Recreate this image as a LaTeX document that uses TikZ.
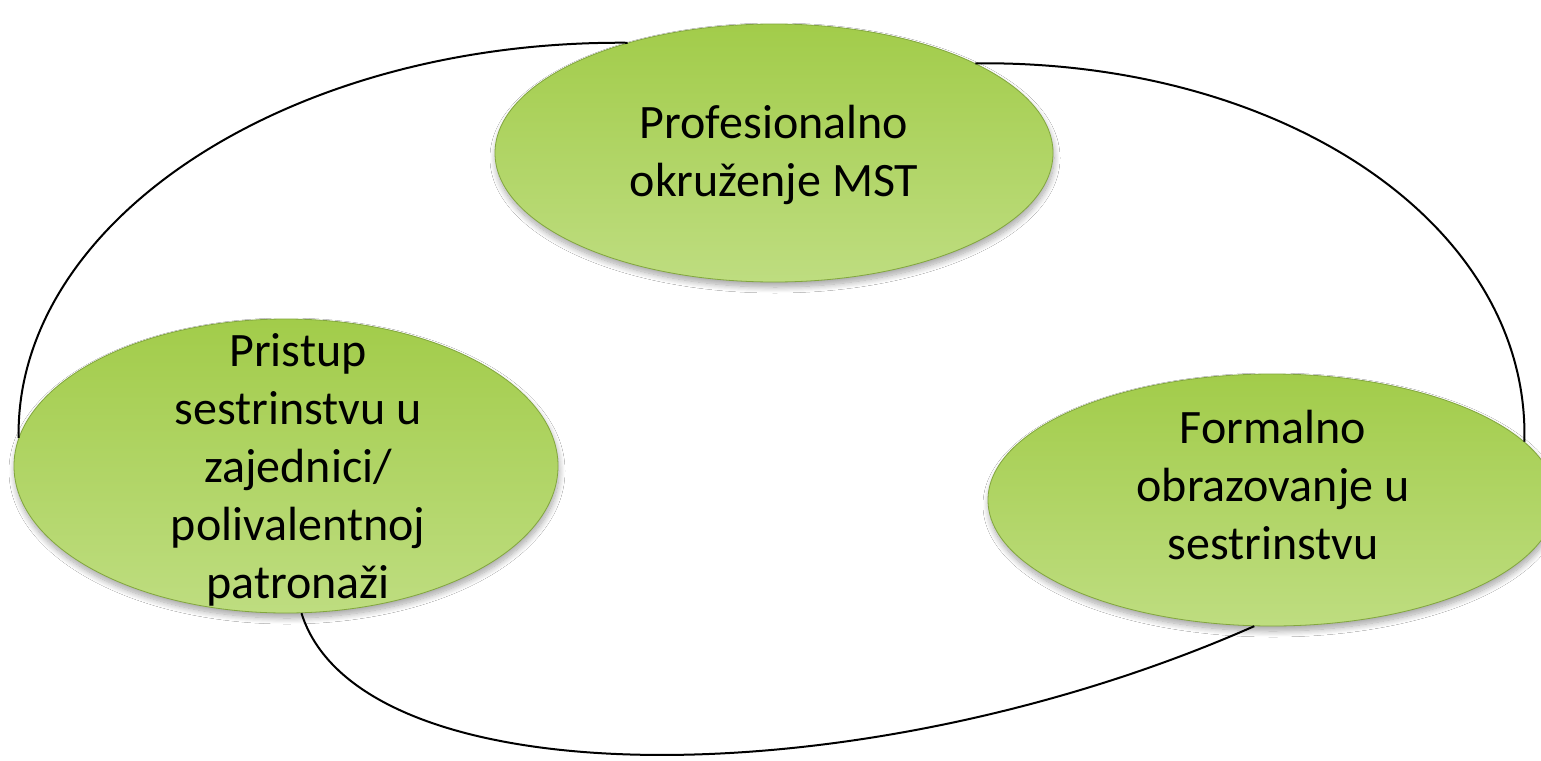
\documentclass[tikz,border=0pt]{standalone}
\usepackage{fontspec}
\setmainfont{Carlito}
\usetikzlibrary{shapes.geometric,shadows.blur}
\definecolor{gtop}{RGB}{162,204,74}
\definecolor{gbot}{RGB}{190,221,128}
\definecolor{gedge}{RGB}{130,166,62}
\begin{document}
\begin{tikzpicture}[x=1pt,y=-1pt,
  blob/.style={ellipse, inner sep=0pt, top color=gtop, bottom color=gbot,
    draw=gedge, line width=0.8pt,
    blur shadow={shadow xshift=1pt, shadow yshift=-5pt, shadow opacity=35, shadow blur radius=6pt, shadow blur steps=12}},
  lbl/.style={align=center, font=\fontsize{48}{58}\selectfont, text=black, inner sep=0pt},
  link/.style={line width=2pt, black}]
\useasboundingbox (0,0) rectangle (1541,760);
\fill[white] (0,0) rectangle (1541,760);

\node[blob, minimum width=558pt, minimum height=258pt] (prof) at (774,153) {};
\node[blob, minimum width=544pt, minimum height=294pt] (pris) at (286,466) {};
\node[blob, minimum width=568pt, minimum height=252pt] (form) at (1272,500) {};

\node[lbl] (prof-t) at (774,155) {Profesionalno\\okruženje MST};
\node[lbl] (pris-t) at (298,470) {Pristup\\sestrinstvu u\\zajednici/\\polivalentnoj\\patronaži};
\node[lbl] (form-t) at (1273,485) {Formalno\\obrazovanje u\\sestrinstvu};

\draw[link] (prof.143) .. controls (288,40) and (15,221) .. (pris.174);
\draw[link] (prof.24) .. controls (1286,60) and (1530,226) .. (form.13);
\draw[link] (pris.-84) .. controls (360,800) and (860,800) .. (form.-98);
\end{tikzpicture}
\end{document}
